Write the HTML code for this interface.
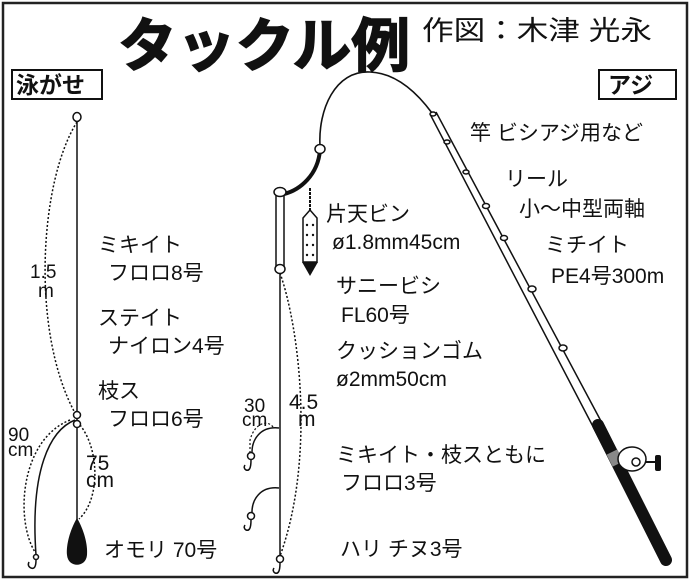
<!DOCTYPE html>
<html><head><meta charset="utf-8"><style>
html,body{margin:0;padding:0;background:#fff;}
svg{display:block;}
text{font-family:"Liberation Sans","Noto Sans CJK JP",sans-serif;fill:#111;}
</style></head><body>
<svg width="690" height="580" viewBox="0 0 690 580" xmlns="http://www.w3.org/2000/svg">
<rect x="3" y="3" width="684" height="574" fill="#fff" stroke="#222" stroke-width="2.5"/>
<text x="118" y="66" font-size="58" font-weight="bold" textLength="292" lengthAdjust="spacingAndGlyphs" stroke="#111" stroke-width="1.5">タックル例</text>
<text x="422" y="40" font-size="27" textLength="230" lengthAdjust="spacingAndGlyphs">作図：木津 光永</text>
<rect x="12" y="70" width="90" height="29" fill="#fff" stroke="#111" stroke-width="2"/>
<text x="16" y="93" font-size="23" font-weight="bold">泳がせ</text>
<rect x="599" y="70" width="77" height="29" fill="#fff" stroke="#111" stroke-width="2"/>
<text x="608" y="93" font-size="23" font-weight="bold">アジ</text>

<!-- left rig -->
<g fill="none" stroke="#111">
<line x1="77" y1="121" x2="77" y2="520" stroke-width="1.5"/>
<path d="M75,420 C50,430 30,470 36,555" stroke-width="1.5"/>
<path d="M36,560 q0,10 -5,8 q-4,-2 -2,-6" stroke-width="1.5"/>
<path d="M77,122 C40,180 30,330 75,413" stroke-dasharray="2,2" stroke-width="1.5"/>
<path d="M70,420 C20,440 15,520 35,552" stroke-dasharray="2,2" stroke-width="1.5"/>
<path d="M80,425 C100,450 100,500 79,519" stroke-dasharray="2,2" stroke-width="1.5"/>
</g>
<ellipse cx="77" cy="117" rx="4" ry="4.5" fill="#fff" stroke="#111" stroke-width="1.5"/>
<circle cx="77" cy="415" r="3.5" fill="#fff" stroke="#111" stroke-width="1.5"/>
<circle cx="77" cy="424" r="3.5" fill="#fff" stroke="#111" stroke-width="1.5"/>
<path d="M77,518 C70,530 66,545 67,555 C68,568 86,568 87,555 C88,545 84,530 77,518Z" fill="#111"/>
<text x="30" y="278" font-size="19">1.5</text>
<text x="38" y="297" font-size="19">m</text>
<text x="8" y="441" font-size="19">90</text>
<text x="8" y="456" font-size="19">cm</text>
<text x="86" y="470" font-size="21">75</text>
<text x="86" y="487" font-size="21">cm</text>

<!-- rod -->
<g fill="none" stroke="#111">
<path d="M320,146 C318,110 335,70 370,72 C395,73 415,90 432,113" stroke-width="1.6"/>
<line x1="430" y1="114" x2="600" y2="440" stroke-width="1.5"/>
<line x1="436" y1="112" x2="610" y2="438" stroke-width="1.5"/>
<path d="M320,150 C318,175 300,190 284,194" stroke-width="4"/>
<line x1="280" y1="270" x2="280" y2="560" stroke-width="1.5"/>
<path d="M279,428 C260,426 252,440 252,452" stroke-width="1.5"/>
<path d="M279,488 C260,486 252,500 252,512" stroke-width="1.5"/>
<path d="M280,273 C300,330 315,460 280,556" stroke-dasharray="2,2" stroke-width="1.5"/>
<path d="M273,427 C268,420 255,422 250,440 L250,452" stroke-dasharray="2,2" stroke-width="1.2"/>
<path d="M251,460 q0,12 -5,10 q-3,-2 -1,-5 M251,520 q0,12 -5,10 q-3,-2 -1,-5 M280,563 q0,12 -5,10 q-3,-2 -1,-5" stroke-width="1.5"/>
</g>
<g fill="#fff" stroke="#111" stroke-width="1.5">
<circle cx="251" cy="456" r="3.5"/><circle cx="251" cy="516" r="3.5"/><circle cx="280" cy="559" r="3.5"/><circle cx="36" cy="557" r="2.5"/>
</g>
<line x1="598" y1="425" x2="666" y2="560" stroke="#111" stroke-width="12" stroke-linecap="round"/>
<line x1="612" y1="452" x2="618" y2="464" stroke="#888" stroke-width="12"/>
<g fill="#fff" stroke="#111" stroke-width="1.5">
<ellipse cx="433" cy="114" rx="3" ry="2"/><ellipse cx="447" cy="142" rx="3" ry="2"/><ellipse cx="466" cy="172" rx="3" ry="2"/><ellipse cx="486" cy="206" rx="3.5" ry="2.5"/><ellipse cx="504" cy="238" rx="3.5" ry="2.5"/><ellipse cx="532" cy="289" rx="4" ry="3"/><ellipse cx="563" cy="348" rx="4" ry="3"/>
<ellipse cx="632" cy="459" rx="14" ry="12"/>
<circle cx="636" cy="462" r="4"/>
</g>
<line x1="645" y1="462" x2="656" y2="462" stroke="#111" stroke-width="2"/>
<rect x="655" y="455" width="6" height="16" rx="2" fill="#111"/>
<!-- tenbin -->
<rect x="276" y="193" width="8" height="75" fill="#fff" stroke="#111" stroke-width="1.5"/>
<ellipse cx="280" cy="192" rx="6" ry="4.5" fill="#fff" stroke="#111" stroke-width="1.5"/>
<ellipse cx="280" cy="269" rx="5" ry="4.5" fill="#fff" stroke="#111" stroke-width="1.5"/>
<ellipse cx="320" cy="149" rx="5" ry="4.5" fill="#fff" stroke="#111" stroke-width="1.5"/>
<line x1="310" y1="188" x2="310" y2="210" stroke="#111" stroke-width="2" stroke-dasharray="3,1"/>
<path d="M303,218 L310,210 L317,218 L317,262 L303,262Z" fill="#fff" stroke="#111" stroke-width="1.5"/>
<path d="M302,262 L318,262 L310,276Z" fill="#111"/>
<g fill="#111"><circle cx="307" cy="225" r="1.2"/><circle cx="313" cy="225" r="1.2"/><circle cx="307" cy="235" r="1.2"/><circle cx="313" cy="235" r="1.2"/><circle cx="307" cy="245" r="1.2"/><circle cx="313" cy="245" r="1.2"/><circle cx="307" cy="255" r="1.2"/><circle cx="313" cy="255" r="1.2"/></g>
<text x="244" y="412" font-size="19">30</text>
<text x="242" y="426" font-size="19">cm</text>
<text x="289" y="409" font-size="21">4.5</text>
<text x="298" y="426" font-size="21">m</text>

<g font-size="21">
<text x="98" y="252">ミキイト</text>
<text x="108" y="280">フロロ8号</text>
<text x="98" y="325">ステイト</text>
<text x="108" y="353">ナイロン4号</text>
<text x="98" y="398">枝ス</text>
<text x="108" y="426">フロロ6号</text>
<text x="104" y="557">オモリ 70号</text>
<text x="326" y="221">片天ビン</text>
<text x="332" y="249">ø1.8mm45cm</text>
<text x="336" y="293">サニービシ</text>
<text x="341" y="322">FL60号</text>
<text x="336" y="358">クッションゴム</text>
<text x="336" y="386">ø2mm50cm</text>
<text x="336" y="462">ミキイト・枝スともに</text>
<text x="341" y="490">フロロ3号</text>
<text x="340" y="556">ハリ チヌ3号</text>
<text x="470" y="140">竿 ビシアジ用など</text>
<text x="505" y="186">リール</text>
<text x="519" y="216">小～中型両軸</text>
<text x="545" y="252">ミチイト</text>
<text x="551" y="283">PE4号300m</text>
</g>
</svg>
</body></html>
